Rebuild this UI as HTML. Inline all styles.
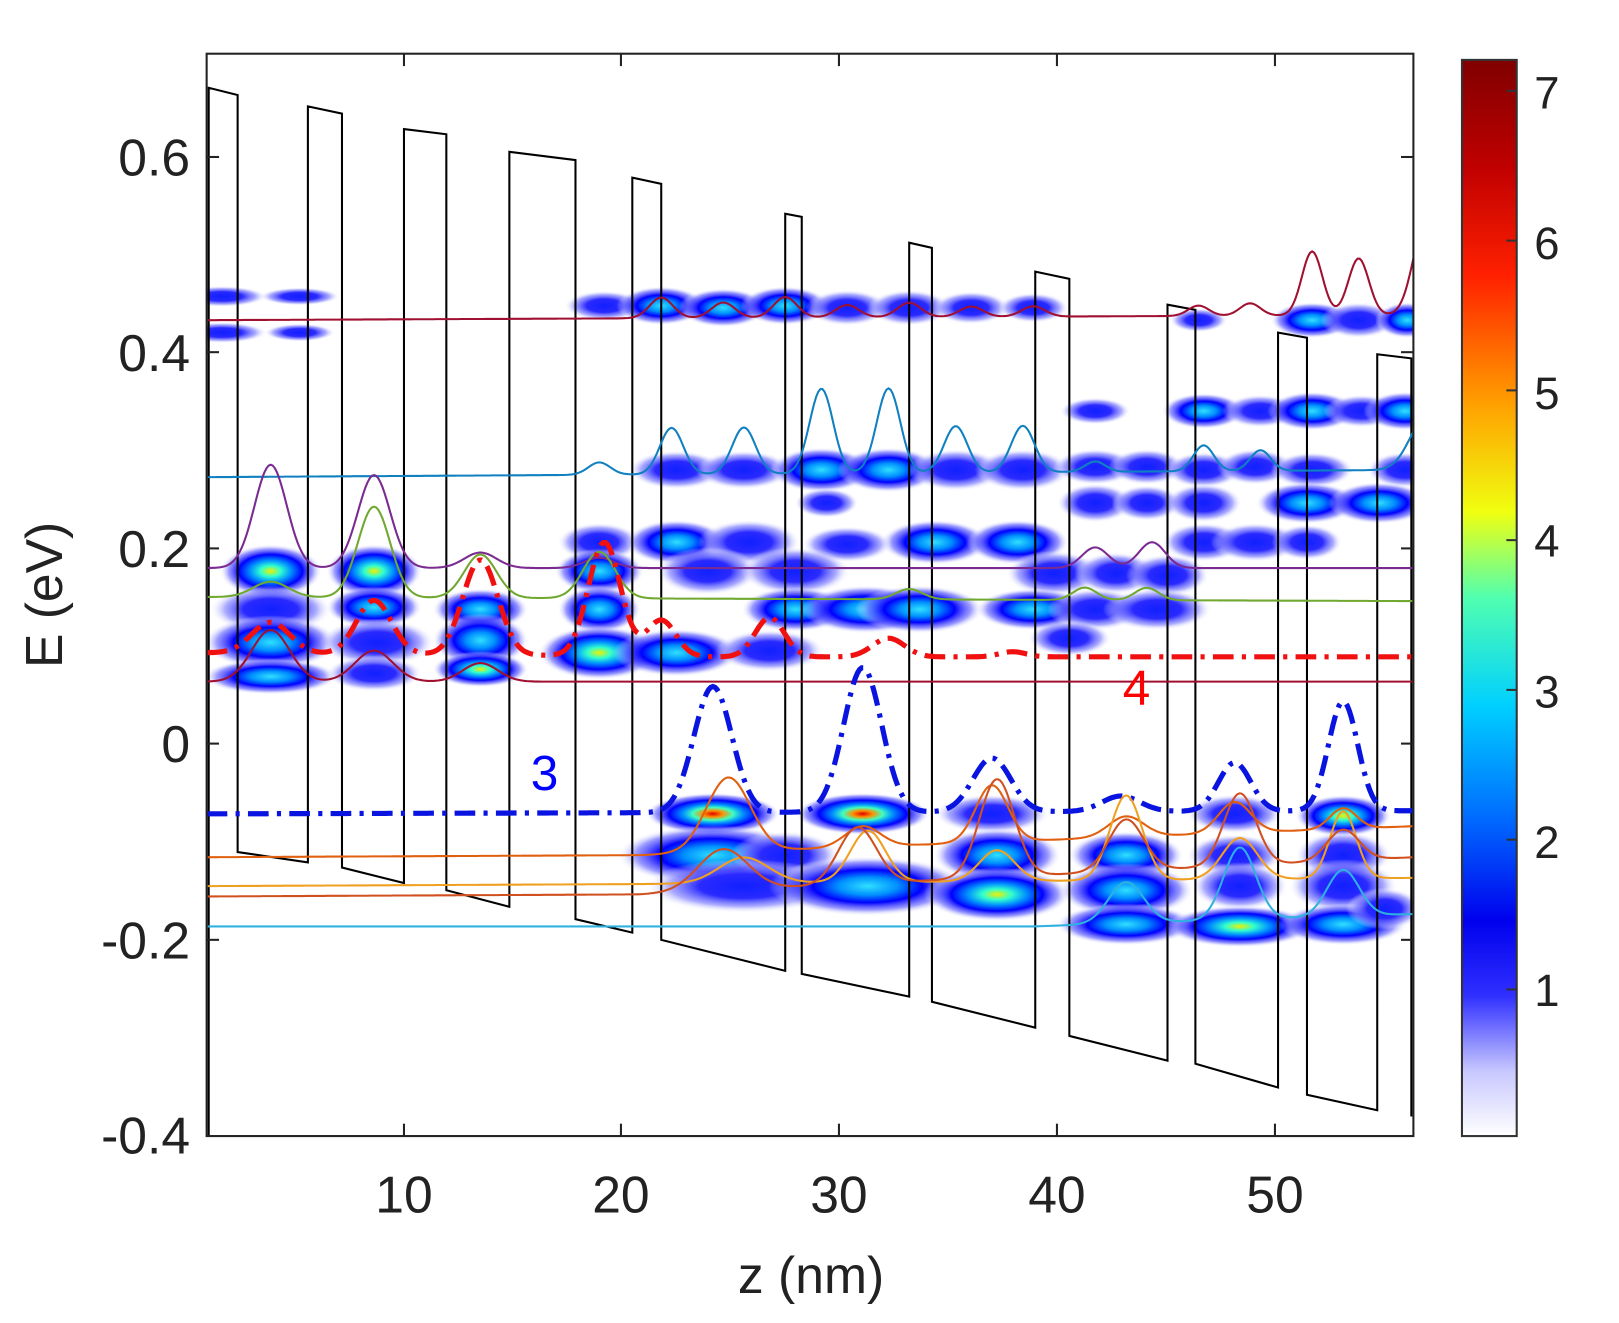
<!DOCTYPE html>
<html><head><meta charset="utf-8"><style>body{margin:0;background:#fff}svg{display:block}</style></head>
<body>
<svg id="s" width="1619" height="1323" viewBox="0 0 1567 1281" preserveAspectRatio="none" xmlns="http://www.w3.org/2000/svg" font-family="Liberation Sans, Arial, sans-serif">
<defs>
<radialGradient id="g1"><stop offset="0" stop-color="#1020ff"/><stop offset="0.45" stop-color="#2a2aff"/><stop offset="0.75" stop-color="#8888ff" stop-opacity="0.7"/><stop offset="1" stop-color="#fff" stop-opacity="0"/></radialGradient>
<radialGradient id="g2"><stop offset="0" stop-color="#30e0ff"/><stop offset="0.3" stop-color="#0090ff"/><stop offset="0.55" stop-color="#0000ff"/><stop offset="0.8" stop-color="#7070ff" stop-opacity="0.7"/><stop offset="1" stop-color="#fff" stop-opacity="0"/></radialGradient>
<radialGradient id="g3"><stop offset="0" stop-color="#f0f000"/><stop offset="0.2" stop-color="#30ffd0"/><stop offset="0.4" stop-color="#0090ff"/><stop offset="0.62" stop-color="#0000ff"/><stop offset="0.82" stop-color="#7070ff" stop-opacity="0.7"/><stop offset="1" stop-color="#fff" stop-opacity="0"/></radialGradient>
<radialGradient id="g4"><stop offset="0" stop-color="#e00000"/><stop offset="0.15" stop-color="#ff9000"/><stop offset="0.3" stop-color="#40ffc0"/><stop offset="0.45" stop-color="#0090ff"/><stop offset="0.65" stop-color="#0000ff"/><stop offset="0.85" stop-color="#7070ff" stop-opacity="0.7"/><stop offset="1" stop-color="#fff" stop-opacity="0"/></radialGradient>
<linearGradient id="cb" x1="0" y1="1" x2="0" y2="0">
<stop offset="0" stop-color="#fff"/><stop offset="0.06" stop-color="#c8c8ff"/><stop offset="0.13" stop-color="#3030ff"/><stop offset="0.2" stop-color="#0000ee"/><stop offset="0.3" stop-color="#0070ff"/><stop offset="0.4" stop-color="#00d0ff"/><stop offset="0.5" stop-color="#50ffb0"/><stop offset="0.58" stop-color="#f0ff10"/><stop offset="0.68" stop-color="#ffa000"/><stop offset="0.8" stop-color="#ff2000"/><stop offset="0.9" stop-color="#c00000"/><stop offset="1" stop-color="#800000"/></linearGradient>
<clipPath id="ax"><rect x="200" y="52" width="1168" height="1048"/></clipPath>
</defs>
<g id="blobs" clip-path="url(#ax)"></g>
<g id="lines" clip-path="url(#ax)" fill="none"></g>
<rect x="200" y="52" width="1168" height="1048" fill="none" stroke="#222" stroke-width="2"/>
<g id="ticks" stroke="#222" stroke-width="2"></g>
<g font-size="50" fill="#222" text-anchor="end">
<text x="184" y="170">0.6</text><text x="184" y="359">0.4</text><text x="184" y="549">0.2</text><text x="184" y="738">0</text><text x="184" y="928">-0.2</text><text x="184" y="1117">-0.4</text>
</g>
<g font-size="50" fill="#222" text-anchor="middle">
<text x="391" y="1174">10</text><text x="601" y="1174">20</text><text x="812" y="1174">30</text><text x="1023" y="1174">40</text><text x="1234" y="1174">50</text>
<text x="785" y="1252">z (nm)</text>
<text transform="translate(60,576) rotate(-90)">E (eV)</text>
</g>
<text x="1100" y="682" font-size="48" fill="#f00" text-anchor="middle">4</text>
<text x="527" y="765" font-size="48" fill="#00f" text-anchor="middle">3</text>
<rect x="1415" y="58" width="53" height="1042" fill="url(#cb)" stroke="#333" stroke-width="2"/>
<g font-size="44" fill="#222">
<text x="1485" y="974">1</text><text x="1485" y="831">2</text><text x="1485" y="685">3</text><text x="1485" y="539">4</text><text x="1485" y="396">5</text><text x="1485" y="251">6</text><text x="1485" y="105">7</text>
</g>
<g stroke="#333" stroke-width="2"><line x1="1458" y1="958" x2="1468" y2="958"/><line x1="1458" y1="813" x2="1468" y2="813"/><line x1="1458" y1="668" x2="1468" y2="668"/><line x1="1458" y1="523" x2="1468" y2="523"/><line x1="1458" y1="378" x2="1468" y2="378"/><line x1="1458" y1="233" x2="1468" y2="233"/><line x1="1458" y1="88" x2="1468" y2="88"/></g>
</svg>
<script>
var NS="http://www.w3.org/2000/svg";
function el(p,t,a){var e=document.createElementNS(NS,t);for(var k in a)e.setAttribute(k,a[k]);p.appendChild(e);return e;}
var B=document.getElementById('blobs'),L=document.getElementById('lines'),T=document.getElementById('ticks');
[152,341,531,720,910].forEach(function(y){el(T,'line',{x1:200,y1:y,x2:212,y2:y});el(T,'line',{x1:1356,y1:y,x2:1368,y2:y});});
[391,601,812,1023,1234].forEach(function(x){el(T,'line',{x1:x,y1:1100,x2:x,y2:1088});el(T,'line',{x1:x,y1:52,x2:x,y2:64});});
var bl=[[215,287,28,7,1],[290,287,25,6,1],[215,322,28,7,1],[290,322,22,6,1],
[585,296,25,10,1],[640,296,28,13,2],[700,298,28,13,2],[760,296,28,13,2],[820,298,26,12,1],[880,298,26,12,1],[940,298,24,11,1],[1000,298,22,10,1],[1160,310,18,8,1],[1270,310,26,12,2],[1315,310,24,12,1],[1362,310,20,12,2],
[1060,398,22,9,1],[1165,398,26,12,2],[1220,398,24,11,1],[1270,398,28,13,2],[1318,398,24,11,1],[1360,398,26,13,2],
[655,455,30,13,1],[720,455,30,13,1],[795,455,32,15,2],[860,455,32,15,2],[925,455,30,14,1],[990,455,30,14,1],[1060,452,26,12,1],[1110,452,24,12,1],[1165,455,24,12,1],[1215,452,24,12,1],[1270,455,26,12,1],[1360,455,24,12,1],
[1060,487,24,13,1],[1110,487,22,12,1],[1165,487,24,13,1],[1265,487,32,14,2],[1335,487,32,14,2],[800,487,20,10,1],
[580,525,26,13,1],[655,525,32,15,2],[725,525,32,15,1],[905,525,34,15,2],[985,525,32,15,2],[1165,525,26,13,1],[1215,525,28,13,1],[1265,525,22,12,1],[820,527,28,12,1],
[262,553,32,18,3],[362,553,30,18,3],[580,553,28,15,2],[685,553,32,16,1],[770,553,34,16,1],[1020,555,30,15,1],[1080,555,26,14,1],[1130,557,26,14,1],
[262,590,38,16,1],[362,588,30,14,2],[465,590,30,14,2],[580,590,26,16,2],[770,590,34,15,2],[838,590,40,16,2],[890,590,40,16,2],[1000,590,36,14,2],[1060,590,30,14,1],[1120,590,34,14,1],
[262,622,42,18,2],[365,622,36,16,1],[465,620,30,18,2],[580,632,38,18,3],[655,632,40,16,2],[745,630,34,14,1],[1035,618,26,12,1],
[262,655,42,12,2],[362,652,30,12,1],[465,648,30,12,3],
[690,788,42,14,4],[835,788,42,14,4],[960,788,36,13,1],[1195,788,30,13,1],[1300,790,30,14,3],
[690,828,60,20,2],[760,828,34,16,1],[965,828,40,18,2],[1090,828,36,16,2],[1195,828,30,14,1],[1300,828,30,16,1],
[720,858,62,18,1],[840,858,62,20,2],[965,866,46,18,3],[1090,862,42,18,2],[1200,858,30,16,1],[1300,858,34,18,1],
[1090,895,44,14,2],[1200,897,46,14,3],[1300,895,40,14,2],[1340,880,24,14,1]];
bl.forEach(function(b){el(B,'ellipse',{cx:b[0],cy:b[1],rx:b[2]*1.55,ry:b[3]*1.45,fill:'url(#g'+b[4]+')'});});
var bar=[[230,85,92,298],[331,103,110,391],[432,125,130,493],[557,147,155,612],[640,172,178,760],[776,207,210,880],[902,235,240,1002],[1035,263,270,1130],[1157,295,300,1237],[1265,322,327,1333],[1366,343,347,0]];
var wells=[[825,835],[840,855],[862,878],[890,903],[910,940],[943,965],[970,995],[1003,1027],[1030,1053],[1060,1075],[1080,1080]];
var d="M202,1100 L202,85";var start=202;
for(var i=0;i<bar.length;i++){var b=bar[i];d+=" L"+start+","+b[1]+" L"+b[0]+","+b[2]+" L"+b[0]+","+wells[i][0];
 if(b[3]){d+=" L"+b[3]+","+wells[i][1]+" L"+b[3]+","+bar[i+1][1];start=b[3];}else{d+=" L1367,1080";}}
el(L,'path',{d:d,stroke:'#000','stroke-width':2});
function curve(base,bumps,col,w,dash){var p="";for(var x=200;x<=1368;x+=2){var y;var k=0;while(k<base.length-2&&x>base[k+1][0])k++;var a=base[k],c=base[k+1];y=a[1]+(c[1]-a[1])*Math.max(0,Math.min(1,(x-a[0])/(c[0]-a[0])));
 bumps.forEach(function(bb){y-=bb[1]*Math.exp(-Math.pow((x-bb[0])/bb[2],2));});p+=(x==200?"M":"L")+x+","+y.toFixed(1)+" ";}
 var o={d:p,stroke:col,'stroke-width':w};if(dash)o['stroke-dasharray']=dash;el(L,'path',o);}
curve([[200,310],[1368,305]],[[640,20,16],[700,15,16],[760,20,16],[820,12,16],[880,14,16],[940,10,16],[1000,10,16],[1160,10,14],[1210,12,14],[1270,62,14],[1315,55,14],[1380,90,17]],'#a01030',2);
curve([[200,462],[1368,455]],[[580,12,15],[650,45,16],[720,45,16],[795,82,16],[860,82,16],[925,45,16],[990,45,16],[1060,10,14],[1165,25,14],[1220,20,14],[1380,50,22]],'#1080c0',2);
curve([[200,550],[1368,550]],[[262,100,22],[362,90,22],[465,15,22],[580,10,20],[1060,20,18],[1115,25,18]],'#7a2a90',2);
curve([[200,578],[1368,582]],[[262,15,24],[362,88,22],[465,42,22],[580,45,22],[880,10,18],[1050,12,16],[1110,12,16]],'#70a830',2);
curve([[200,632],[700,636],[1368,636]],[[262,30,26],[362,52,24],[465,92,24],[585,110,22],[640,35,20],[745,38,20],[860,18,22],[980,5,18]],'#f01010',5,'20,8,4,8');
curve([[200,660],[1368,660]],[[262,50,26],[362,30,26],[465,18,24]],'#a01030',2);
curve([[200,788],[1368,785]],[[690,122,26],[835,140,26],[960,52,26],[1085,15,26],[1195,47,22],[1300,106,20]],'#0a14e0',5,'20,8,4,8');
curve([[200,830],[620,828],[1368,800]],[[705,72,30],[835,20,24],[960,55,22],[1090,20,24],[1195,30,22],[1300,20,18]],'#e06010',2);
curve([[200,858],[620,856],[1368,850]],[[720,25,34],[840,50,24],[965,30,24],[1090,82,22],[1200,40,24],[1300,65,18]],'#f0a020',2);
curve([[200,868],[620,866],[1368,830]],[[700,40,34],[830,55,26],[965,95,24],[1090,50,24],[1200,70,22],[1300,30,22]],'#d05020',2);
curve([[200,897],[1000,897],[1368,885]],[[1090,40,24],[1200,70,22],[1300,45,22]],'#30b0e0',2);
</script>
</body></html>
